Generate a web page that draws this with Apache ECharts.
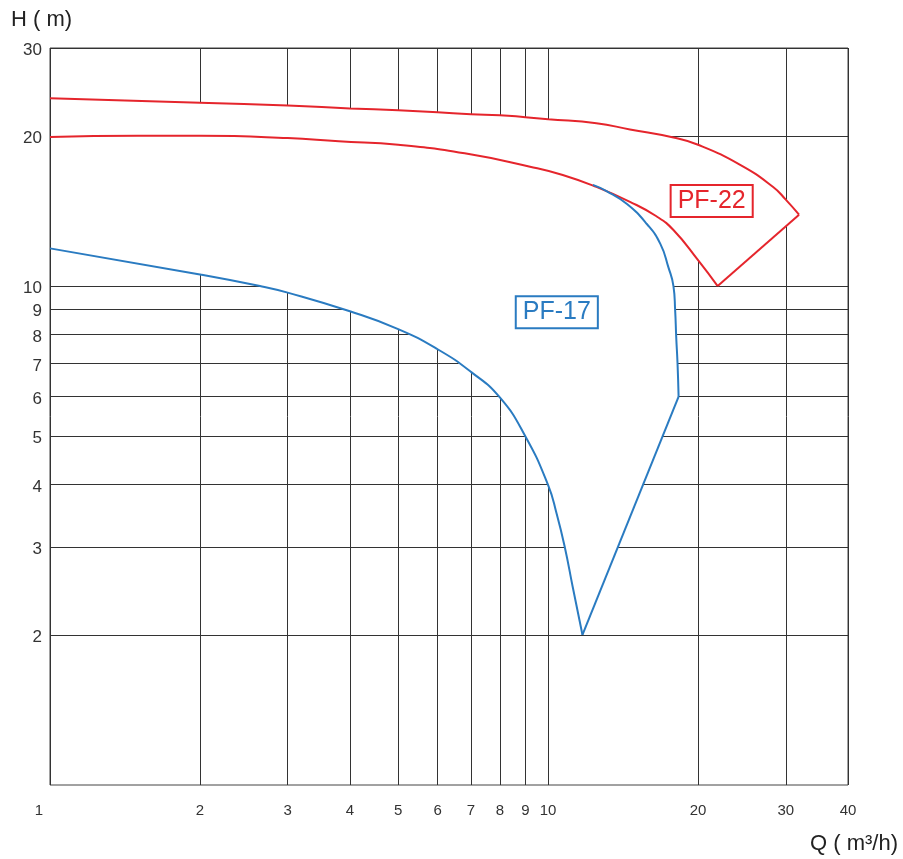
<!DOCTYPE html>
<html>
<head>
<meta charset="utf-8">
<title>PF 性能曲线</title>
<script src="https://cdn.jsdelivr.net/npm/echarts@6/dist/echarts.min.js"></script>
<style>
    html, body { margin: 0; padding: 0; background: #fff; }
    #main { width: 903px; height: 859px; }
</style>
</head>
<body>
<div id="main"></div>
<script>
// ---- 刻度 ----
var qTicks = [1, 2, 3, 4, 5, 6, 7, 8, 9, 10, 20, 30, 40];
var hTicks = [2, 3, 4, 5, 6, 7, 8, 9, 10, 20, 30];

// ---- 曲线数据 [Q(m³/h), H(m)] ----
// PF-22 上边线 (最后一点为右侧尖角)
var pf22Upper = [[1, 23.8], [2, 23.3], [3, 23.0], [4, 22.7], [5, 22.5], [6, 22.3], [7, 22.1],
    [8, 22.0], [9, 21.8], [10, 21.6], [12.5, 21.2], [14.6, 20.6], [17.85, 19.85], [20, 19.2],
    [24.3, 17.5], [28.3, 15.8], [30, 14.9], [31.9, 13.9]];
// PF-22 下边线 (最后一点为下方尖角)
var pf22Lower = [[1, 19.9], [1.5, 20.0], [2, 20.0], [3, 19.8], [3.8, 19.5], [5, 19.2], [6.8, 18.45],
    [9.2, 17.35], [10.7, 16.7], [12.5, 15.8], [14.6, 14.75], [16.5, 13.8], [17.85, 12.95],
    [20, 11.27], [21.9, 10.0]];
// PF-17 下边线 (最后一点为 V 形底点)
var pf17Lower = [[1, 11.9], [2, 10.55], [2.64, 10.0], [3, 9.7], [4, 8.9], [5, 8.2], [6, 7.47],
    [7, 6.73], [8, 5.98], [9, 5.0], [10, 3.99], [10.4, 3.5], [10.8, 3.0], [11.2, 2.5], [11.72, 2.0]];
// PF-17 右侧曲线 (从与 PF-22 相交处开始)
var pf17Upper = [[12.3, 15.95], [13.1, 15.5], [14.4, 14.6], [15.8, 13.3], [16.8, 12.15],
    [17.44, 10.9], [17.85, 10.0], [17.99, 8.95], [18.08, 7.9], [18.19, 7.0], [18.28, 6.0]];

// 型号标签
var modelNames = ['PF-22', 'PF-17'];
var modelLabelPos = [[21.3, 14.8], [10.41, 8.86]];

var RED = '#e5252c';
var BLUE = '#2a7bc1';
var modelColors = [RED, BLUE];
var FONT = 'Liberation Sans, Arial, sans-serif';

function last(a) { return a[a.length - 1]; }

// 对数坐标下插值
function interpH(curve, q) {
    for (var i = 1; i < curve.length; i++) {
        if (curve[i][0] >= q) {
            var a = curve[i - 1], b = curve[i];
            var t = (Math.log(q) - Math.log(a[0])) / (Math.log(b[0]) - Math.log(a[0]));
            return Math.exp(Math.log(a[1]) + t * (Math.log(b[1]) - Math.log(a[1])));
        }
    }
    return last(curve)[1];
}

// 曲线围成的区域填白，遮住网格线
var qEdge = 1.01;
var maskPts = [[qEdge, interpH(pf22Upper, qEdge)]]
    .concat(pf22Upper.filter(function (p) { return p[0] > qEdge; }))
    .concat(pf22Lower.filter(function (p) { return p[0] > pf17Upper[0][0]; }).reverse())
    .concat(pf17Upper)
    .concat(pf17Lower.filter(function (p) { return p[0] > qEdge; }).reverse())
    .concat([[qEdge, interpH(pf17Lower, qEdge)]]);

var lineSeries = function (data, color, smooth) {
    return {
        type: 'line',
        data: data,
        z: 3,
        smooth: smooth,
        showSymbol: false,
        symbol: 'none',
        silent: true,
        lineStyle: { color: color, width: 2 }
    };
};

var option = {
    animation: false,
    backgroundColor: '#fff',
    grid: {
        left: 50, right: 55, top: 48, bottom: 74,
        show: true,
        borderColor: '#444',
        borderWidth: 1
    },
    xAxis: {
        type: 'log',
        logBase: 10,
        min: 1,
        max: 40,
        axisLine: { show: false },
        axisTick: { show: false, customValues: qTicks },
        axisLabel: {
            customValues: qTicks,
            margin: 18,
            color: '#333',
            fontFamily: FONT,
            fontSize: 15,
            formatter: function (v) {
                var n = Math.round(v);
                return n === 1 ? '{first|1}' : String(n);
            },
            rich: {
                first: { fontFamily: FONT, fontSize: 15, color: '#333', padding: [0, 22, 0, 0] }
            }
        },
        splitLine: { show: true, lineStyle: { color: '#333', width: 1 } }
    },
    yAxis: {
        type: 'log',
        logBase: 10,
        min: 1,
        max: 30,
        axisLine: { show: false },
        axisTick: { show: false, customValues: hTicks },
        axisLabel: {
            customValues: hTicks,
            margin: 8,
            color: '#333',
            fontFamily: FONT,
            fontSize: 17,
            formatter: function (v) { return '{h|' + Math.round(v) + '}'; },
            rich: {
                h: { fontFamily: FONT, fontSize: 17, color: '#333', padding: [5, 0, 0, 0] }
            }
        },
        splitLine: { show: true, lineStyle: { color: '#333', width: 1 } }
    },
    graphic: [
        { type: 'text', left: 11, top: 9, style: { text: 'H ( m)', font: '22px ' + FONT, fill: '#222' } },
        { type: 'text', right: 5, top: 833, style: { text: 'Q ( m³/h)', font: '22px ' + FONT, fill: '#222' } }
    ],
    series: [
        {
            type: 'custom',
            z: 1,
            silent: true,
            data: [[2, 5]],
            renderItem: function (params, api) {
                return {
                    type: 'polygon',
                    shape: { points: maskPts.map(function (p) { return api.coord(p); }) },
                    style: { fill: '#fff' }
                };
            }
        },
        lineSeries(pf22Upper, RED, true),
        lineSeries(pf22Lower, RED, true),
        lineSeries([last(pf22Lower), last(pf22Upper)], RED, false),
        lineSeries(pf17Lower, BLUE, true),
        lineSeries([last(pf17Lower), last(pf17Upper)], BLUE, false),
        lineSeries(pf17Upper, BLUE, true),
        {
            // 带框的型号文字
            type: 'custom',
            z: 4,
            silent: true,
            data: modelLabelPos,
            renderItem: function (params, api) {
                var pt = api.coord([api.value(0), api.value(1)]);
                var c = modelColors[params.dataIndex];
                return {
                    type: 'text',
                    x: pt[0],
                    y: pt[1],
                    style: {
                        text: modelNames[params.dataIndex],
                        fill: c,
                        font: '25px ' + FONT,
                        align: 'center',
                        verticalAlign: 'middle',
                        lineHeight: 26,
                        backgroundColor: '#fff',
                        borderColor: c,
                        borderWidth: 2,
                        padding: [3, 6, 1, 6]
                    }
                };
            }
        }
    ]
};

var chart = echarts.init(document.getElementById('main'));
chart.setOption(option);
</script>
</body>
</html>
